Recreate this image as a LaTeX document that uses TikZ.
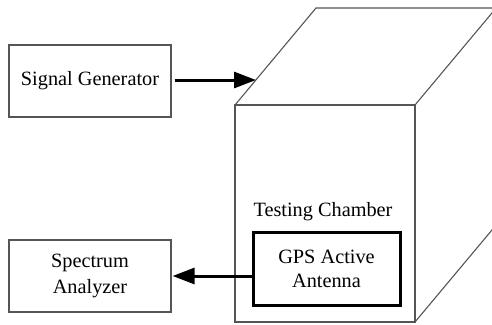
\documentclass[tikz,border=0pt]{standalone}
\usepackage{fontspec}
\setmainfont{Liberation Serif}
\usetikzlibrary{arrows.meta}
\definecolor{edge}{RGB}{85,85,85}
\tikzset{
  blockbox/.style={draw=edge, line width=1.2pt, minimum width=162pt, minimum height=72pt, inner sep=0pt, align=center, font=\fontsize{20.3}{26}\selectfont},
  antbox/.style={draw=black, line width=3pt, minimum width=147pt, minimum height=73pt, inner sep=0pt, align=center, font=\fontsize{20.3}{24}\selectfont},
  flow/.style={line width=3pt, -{Triangle[length=22pt,width=16pt]}},
  cube/.style={draw=edge, line width=1.1pt}
}
\begin{document}
\begin{tikzpicture}[x=1pt,y=-1pt]
\useasboundingbox (0,0) rectangle (492,324);
\begin{scope}
\clip (0,0) rectangle (492,324);
\draw[cube] (235,105) rectangle (415,322);
\draw[cube] (235,105) -- (316,8) -- (520,8);
\draw[cube] (415,105) -- (502,1);
\draw[cube] (415,322) -- (502,218);
\end{scope}
\node[blockbox] (sg) at (90,81) {Signal Generator};
\node[blockbox] (sa) at (90,276) {Spectrum\\Analyzer};
\node[antbox] (gps) at (326.5,268.5) {GPS Active\\Antenna};
\node[font=\fontsize{20.3}{24}\selectfont, anchor=south] (tc) at (323,224) {Testing Chamber};
\coordinate (in) at (256,80);
\draw[flow] ([xshift=3pt]sg.east |- in) -- (in);
\draw[flow] (gps.west |- sa.east) -- ([xshift=1pt]sa.east);
\end{tikzpicture}
\end{document}
